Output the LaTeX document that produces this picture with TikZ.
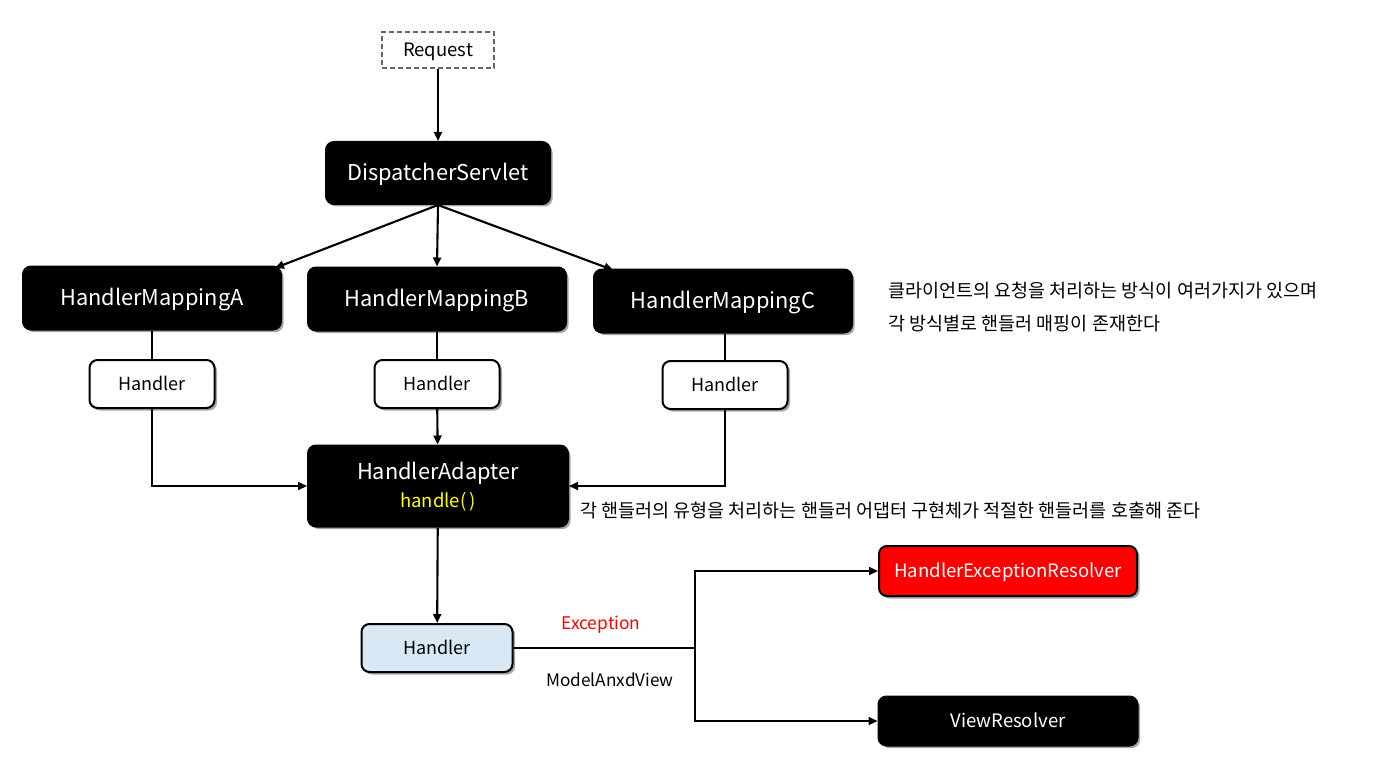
\documentclass[tikz,border=0pt]{standalone}
\usepackage{fontspec}
\setmainfont{Noto Sans CJK KR}
\usetikzlibrary{shadows,arrows.meta}
\definecolor{hblue}{HTML}{D9E8F5}
\definecolor{hyellow}{HTML}{FFFF00}
\begin{document}
\begin{tikzpicture}[x=1pt,y=-1pt,
  base/.style={rounded corners=8pt, line width=2pt, draw=black, align=center, inner sep=0pt,
     drop shadow={shadow xshift=2.5pt,shadow yshift=-2.5pt,opacity=0.35,fill=black}},
  darkbox/.style={base, fill=black, text=white, font=\fontsize{21.8}{26}\selectfont, text height=16.5pt, text depth=1.5pt},
  smallbox/.style={base, fill=white, text=black, font=\fontsize{18}{22}\selectfont, text height=13.5pt, text depth=1.2pt, minimum width=125pt, minimum height=48pt},
  midbox/.style={base, text=white, font=\fontsize{18.5}{22}\selectfont, text height=14pt, text depth=1.2pt},
  conn/.style={line width=2.1pt, draw=black},
  arr/.style={conn, -{Triangle[length=9pt,width=8pt]}},
  note/.style={font=\fontsize{18.5}{22}\selectfont, anchor=west, inner sep=0pt}]
\useasboundingbox (0,0) rectangle (1386,762);
\fill[white] (0,0) rectangle (1386,762);

\node[draw=black!60, dash pattern=on 5pt off 3pt, line width=1.4pt, fill=white, minimum width=112pt, minimum height=36pt, inner sep=0pt,
  text height=14pt, text depth=1.2pt,
  font=\fontsize{18.5}{22}\selectfont] (req) at (438,50) {Request};
\node[darkbox, minimum width=224pt, minimum height=62pt] (ds) at (438,173) {DispatcherServlet};
\node[darkbox, minimum width=258pt, minimum height=63pt] (hma) at (152,298) {HandlerMappingA};
\node[darkbox, minimum width=258pt, minimum height=63pt] (hmb) at (437,299) {HandlerMappingB};
\node[darkbox, minimum width=258pt, minimum height=63pt] (hmc) at (723,301) {HandlerMappingC};
\node[smallbox] (ha) at (152,384) {Handler};
\node[smallbox] (hb) at (437,384) {Handler};
\node[smallbox] (hc) at (725,385) {Handler};
\node[darkbox, minimum width=260pt, minimum height=81pt] (ad) at (438,486) {};
\node[text=white, font=\fontsize{21.8}{26}\selectfont, inner sep=0pt] (adt) at (438,473) {HandlerAdapter};
\node[text=hyellow, font=\fontsize{18.5}{22}\selectfont, inner sep=0pt] (adm) at (438,502) {handle(\,)};
\node[smallbox, fill=hblue, minimum width=151pt] (hd) at (437,648) {Handler};
\node[midbox, fill=red, minimum width=258pt, minimum height=50pt] (her) at (1008,571) {HandlerExceptionResolver};
\node[midbox, fill=black, minimum width=259pt, minimum height=49pt] (vr) at (1008,721) {ViewResolver};

\coordinate (a1) at (275,268);
\coordinate (c1) at (613,270);
\coordinate (br) at (695,648);

\draw[arr] (req) -- (ds);
\draw[arr] (ds.south) -- (a1);
\draw[arr] (ds.south) -- (hmb.north);
\draw[arr] (ds.south) -- (c1);
\draw[conn] (hma) -- (ha);
\draw[conn] (hmb) -- (hb);
\draw[conn] (hmc.south -| hc) -- (hc);
\draw[arr] (ha.south) |- (ad.west);
\draw[arr] (hb) -- (ad);
\draw[arr] (hc.south) |- (ad.east);
\draw[arr] (ad) -- (hd);
\draw[conn] (hd.east) -- (br);
\draw[arr] (br) |- (her.west);
\draw[arr] (br) |- (vr.west);

\node[text=red, font=\fontsize{17.4}{20}\selectfont] (exc) at (601,625) {Exception};
\node[font=\fontsize{17.2}{20}\selectfont] (mav) at (610,680) {ModelAnxdView};

\node[note] (n1) at (888,291) {클라이언트의 요청을 처리하는 방식이 여러가지가 있으며};
\node[note] (n2) at (888,324) {각 방식별로 핸들러 매핑이 존재한다};
\node[note] (n3) at (580,511) {각 핸들러의 유형을 처리하는 핸들러 어댑터 구현체가 적절한 핸들러를 호출해 준다};
\end{tikzpicture}
\end{document}
